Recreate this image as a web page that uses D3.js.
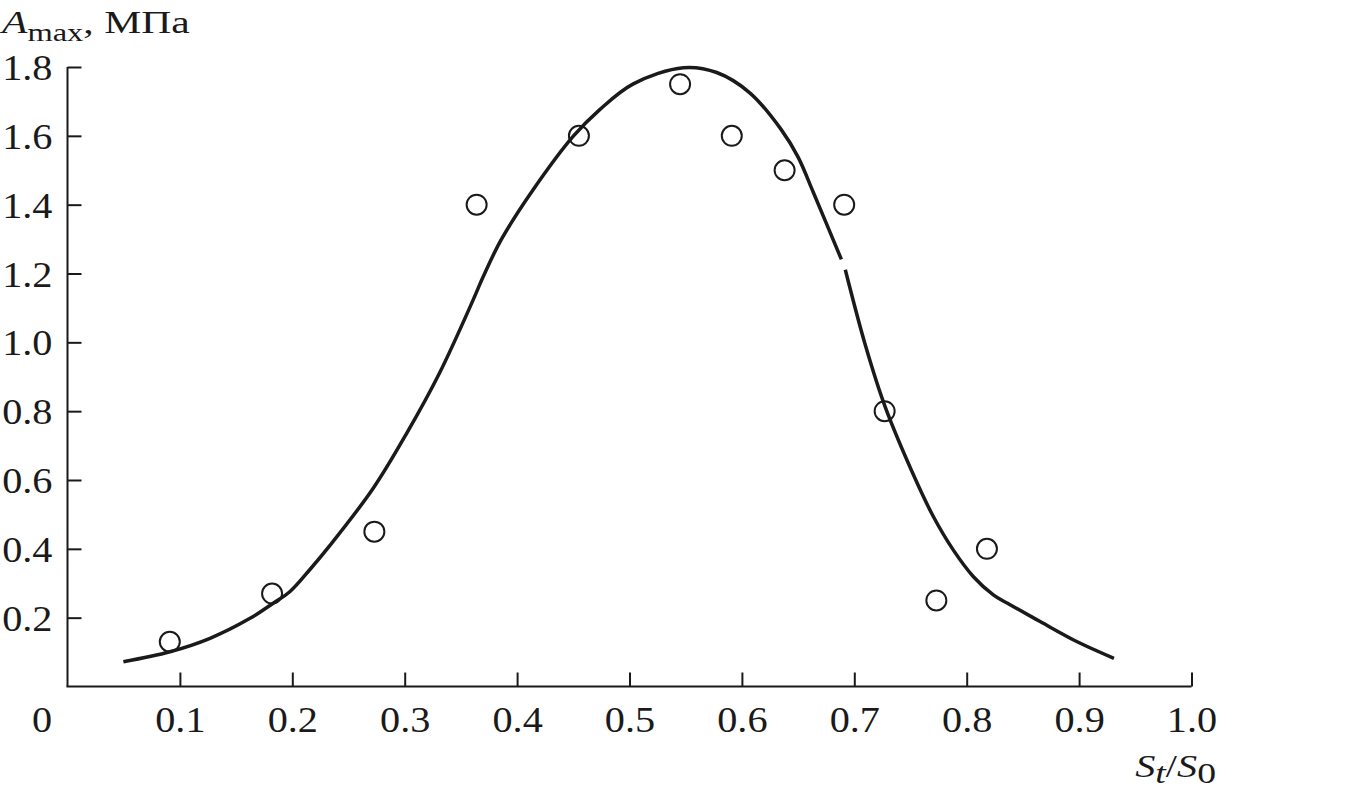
<!DOCTYPE html>
<html>
<head>
<meta charset="utf-8">
<script src="https://cdn.jsdelivr.net/npm/d3@7"></script>
<style>
  html, body { margin: 0; padding: 0; background: #fff; }
  svg { display: block; }
  text { font-family: "Liberation Serif", "Times New Roman", serif; fill: #1a1a1a; }
</style>
</head>
<body>
<svg id="chart" width="1368" height="799"></svg>
<script>
// ---- data ----
const xTicks = [0.1, 0.2, 0.3, 0.4, 0.5, 0.6, 0.7, 0.8, 0.9, 1.0];
const yTicks = [0.2, 0.4, 0.6, 0.8, 1.0, 1.2, 1.4, 1.6, 1.8];

// measured points (open circles)
const pointX = [0.091, 0.182, 0.273, 0.364, 0.455, 0.545, 0.591, 0.638, 0.691, 0.727, 0.773, 0.818];
const pointY = [0.13, 0.27, 0.45, 1.40, 1.60, 1.75, 1.60, 1.50, 1.40, 0.80, 0.25, 0.40];

// fitted curve (two pieces, with a small break near 0.69)
const curve1X = [0.0497, 0.0912, 0.1268, 0.1624, 0.183, 0.198, 0.2157, 0.2335, 0.272, 0.302, 0.331, 0.361, 0.370, 0.386, 0.4144, 0.450, 0.4738, 0.5034, 0.548, 0.5776, 0.607, 0.635, 0.650, 0.6635, 0.6885];
const curve1Y = [0.072, 0.101, 0.140, 0.198, 0.242, 0.276, 0.340, 0.410, 0.576, 0.737, 0.911, 1.124, 1.192, 1.299, 1.444, 1.599, 1.677, 1.751, 1.798, 1.784, 1.725, 1.618, 1.538, 1.436, 1.241];
const curve2X = [0.692, 0.710, 0.7273, 0.754, 0.7703, 0.788, 0.806, 0.8237, 0.839, 0.8657, 0.8983, 0.931];
const curve2Y = [1.211, 0.990, 0.814, 0.605, 0.494, 0.397, 0.319, 0.266, 0.237, 0.188, 0.130, 0.082];

// ---- drawing ----
const svg = d3.select("#chart");
const ink = "#1a1a1a";
const tickFont = 35, tickStretch = 1.15;

const x = d3.scaleLinear().domain([0, 1]).range([67.5, 1191.5]);
const y = d3.scaleLinear().domain([0, 1.8]).range([686.5, 67]);
const fmt = d3.format(".1f");

// y axis
const gy = svg.append("g").attr("transform", `translate(${x(0)},0)`)
  .call(d3.axisLeft(y).tickValues(yTicks).tickSize(-14).tickSizeOuter(0).tickPadding(15).tickFormat(fmt));
gy.select(".domain").attr("stroke", ink).attr("stroke-width", 2).attr("d", `M0,${y(1.8)}V${y(0)}`);
gy.selectAll(".tick line").attr("stroke", ink).attr("stroke-width", 2);
gy.selectAll(".tick text").attr("font-size", tickFont).attr("dy", null).attr("x", 0).attr("y", 0)
  .attr("transform", `translate(-15,12.5) scale(${tickStretch},1)`)
  .attr("font-family", "Liberation Serif").attr("fill", ink);

// x axis
const gx = svg.append("g").attr("transform", `translate(0,${y(0)})`)
  .call(d3.axisBottom(x).tickValues(xTicks).tickSize(-14).tickSizeOuter(0).tickFormat(fmt));
gx.select(".domain").attr("stroke", ink).attr("stroke-width", 2).attr("d", `M${x(0) - 1},0H${x(1)}`);
gx.selectAll(".tick line").attr("stroke", ink).attr("stroke-width", 2);
gx.selectAll(".tick text").attr("font-size", tickFont).attr("dy", null).attr("x", 0).attr("y", 0)
  .attr("transform", `translate(0,45) scale(${tickStretch},1)`)
  .attr("font-family", "Liberation Serif").attr("fill", ink);

// origin label
svg.append("text").attr("transform", `translate(42,${y(0) + 45}) scale(${tickStretch},1)`)
  .attr("text-anchor", "middle").attr("font-size", tickFont).text("0");

// curve
const line = d3.line().x(d => x(d[0])).y(d => y(d[1])).curve(d3.curveCatmullRom.alpha(0.5));
[[curve1X, curve1Y], [curve2X, curve2Y]].forEach(([cx, cy]) => {
  svg.append("path")
    .datum(cx.map((v, i) => [v, cy[i]]))
    .attr("d", line)
    .attr("fill", "none")
    .attr("stroke", ink)
    .attr("stroke-width", 3.5)
    .attr("stroke-linecap", "butt");
});

// points
svg.append("g").selectAll("circle")
  .data(pointX.map((v, i) => [v, pointY[i]]))
  .join("circle")
  .attr("cx", d => x(d[0]))
  .attr("cy", d => y(d[1]))
  .attr("r", 10)
  .attr("fill", "none")
  .attr("stroke", ink)
  .attr("stroke-width", 2);

// y axis title
const yt = svg.append("text").attr("transform", "translate(2,33) scale(1.3,1)").attr("font-size", 32);
yt.append("tspan").attr("font-style", "italic").text("A");
yt.append("tspan").attr("font-size", 25).attr("dy", 8).text("max");
yt.append("tspan").attr("dy", -8).text(", МПа");

// x axis title
const xt = svg.append("text").attr("transform", "translate(1216,777) scale(1.3,1)")
  .attr("text-anchor", "end").attr("font-size", 31);
xt.append("tspan").attr("font-style", "italic").text("S");
xt.append("tspan").attr("font-style", "italic").attr("font-size", 29).attr("dy", 6).text("t");
xt.append("tspan").attr("dy", -6).text("/");
xt.append("tspan").attr("font-style", "italic").text("S");
xt.append("tspan").attr("font-size", 29).attr("dy", 6).text("0");
</script>
</body>
</html>
